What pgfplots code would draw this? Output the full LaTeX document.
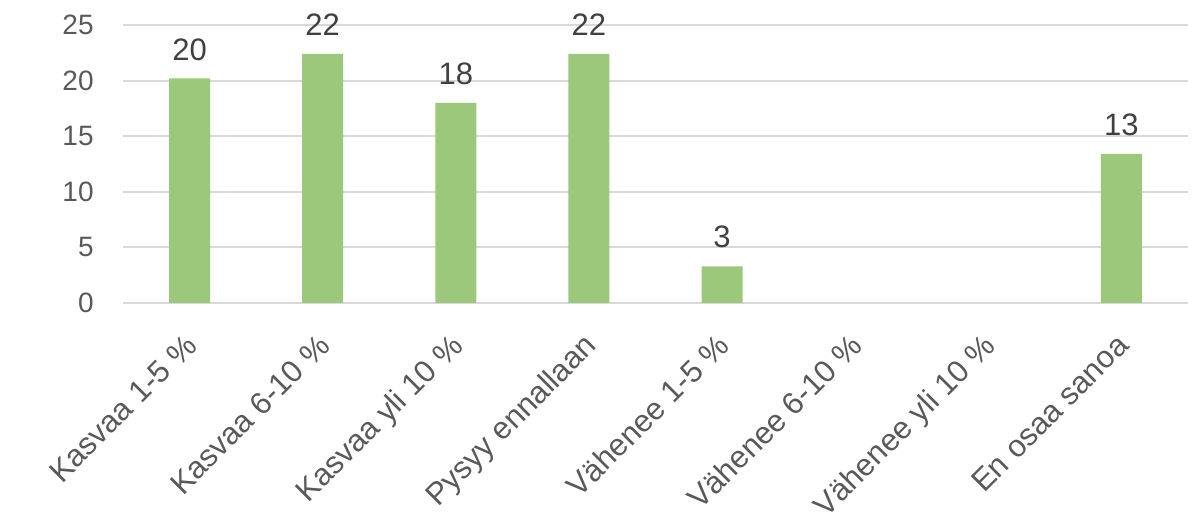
\documentclass[border=0pt]{standalone}
\usepackage{fontspec}
\setmainfont{Liberation Sans}
\usepackage{pgfplots}
\pgfplotsset{compat=1.18}
\definecolor{bargreen}{HTML}{9BC87A}
\definecolor{txtgray}{HTML}{595959}
\definecolor{lblgray}{HTML}{404040}
\definecolor{gridgray}{HTML}{D9D9D9}
\begin{document}
\begin{tikzpicture}
\useasboundingbox (0,0) rectangle (596bp,257bp);
\begin{axis}[
    at={(61.5bp,105.5bp)}, anchor=south west,
    width=532.5bp, height=139bp, scale only axis,
    xmin=-0.5, xmax=7.5, ymin=0, ymax=25,
    axis line style={draw=none},
    major tick length=0pt,
    ytick={0,5,...,25},
    ymajorgrids, grid style={gridgray, line width=1bp},
    xtick={0,...,7},
    xticklabels={Kasvaa 1-5 \%, Kasvaa 6-10 \%, Kasvaa yli 10 \%, Pysyy ennallaan,
                 Vähenee 1-5 \%, Vähenee 6-10 \%, Vähenee yli 10 \%, En osaa sanoa},
    /pgf/number format/assume math mode=true,
    ticklabel style={text=txtgray},
    yticklabel style={font=\fontsize{14bp}{16bp}\selectfont, anchor=east, inner sep=0pt, xshift=-14.5bp},
    xticklabel style={font=\fontsize{15.5bp}{18bp}\selectfont, inner sep=0pt, text height=0.72em, text depth=0.2em,
                      xshift=2.8bp, yshift=-20.3bp, rotate=45, anchor=east},
    ybar, bar width=20.5bp,
    nodes near coords={\pgfmathprintnumber[fixed,precision=0]{\pgfplotspointmeta}},
    nodes near coords style={font=\fontsize{15.5bp}{18bp}\selectfont, text=lblgray,
                             anchor=center, inner sep=0pt, yshift=14.5bp},
]
\addplot[fill=bargreen, draw=none] coordinates {(0,20.2) (1,22.4) (2,18.0) (3,22.4) (4,3.3) (7,13.4)};
\node[font=\fontsize{15.5bp}{18bp}\selectfont, text=txtgray, xshift=-44.5bp, yshift=-7bp]
    at (rel axis cs:0,1) {\%};
\end{axis}
\end{tikzpicture}
\end{document}
